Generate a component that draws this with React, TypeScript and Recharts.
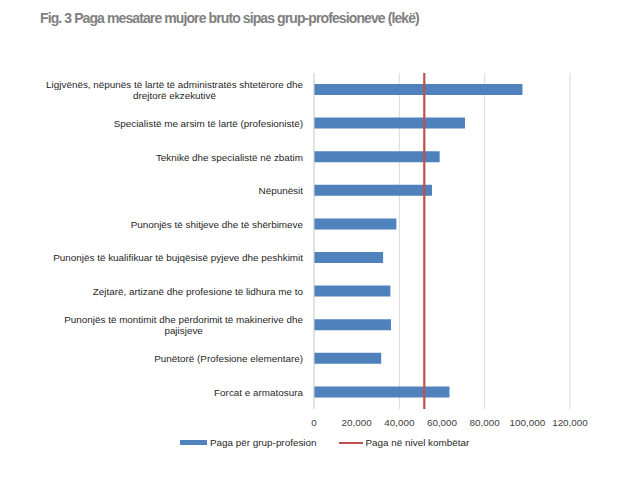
import React from "react";
import {
  BarChart,
  Bar,
  XAxis,
  YAxis,
  CartesianGrid,
  ReferenceLine,
} from "recharts";

const categories = [
  "Ligjvënës, nëpunës të lartë të administratës shtetërore dhe drejtorë ekzekutivë",
  "Specialistë me arsim të lartë (profesionistë)",
  "Teknikë dhe specialistë në zbatim",
  "Nëpunësit",
  "Punonjës të shitjeve dhe të shërbimeve",
  "Punonjës të kualifikuar të bujqësisë pyjeve dhe peshkimit",
  "Zejtarë, artizanë dhe profesione të lidhura me to",
  "Punonjës të montimit dhe përdorimit të makinerive dhe pajisjeve",
  "Punëtorë (Profesione elementare)",
  "Forcat e armatosura",
];

const wages = [97700, 70800, 58900, 55300, 38600, 32400, 35800, 36100, 31500, 63500];

const nationalWage = 51700;

const xTicks = [0, 20000, 40000, 60000, 80000, 100000, 120000];

const data = categories.map((name, i) => ({ name, wage: wages[i] }));

const FONT = '"Liberation Sans", Arial, sans-serif';
const LABEL_SIZE = 9.9;
const BLUE = "#4f81bd";
const RED = "#c0504d";

let ctx: CanvasRenderingContext2D | null = null;
const measure = (s: string) => {
  if (!ctx) {
    ctx = document.createElement("canvas").getContext("2d");
  }
  if (!ctx) return s.length * 4.6;
  ctx.font = `${LABEL_SIZE}px ${FONT}`;
  return ctx.measureText(s).width;
};

// wrap long category names like Excel does, lines centred in the block
const wrap = (text: string, maxW: number) => {
  const words = text.split(" ");
  const lines: string[] = [];
  let cur = "";
  words.forEach((w) => {
    const next = cur ? cur + " " + w : w;
    if (measure(next) > maxW && cur) {
      lines.push(cur);
      cur = w;
    } else {
      cur = next;
    }
  });
  if (cur) lines.push(cur);
  return lines;
};

const CategoryTick = (props: any) => {
  const { x, y, payload } = props;
  const lines = wrap(payload.value, 270);
  const right = x - 3;
  const blockW = Math.max(...lines.map(measure));
  const lh = 10.5;
  const startY = y - ((lines.length - 1) * lh) / 2 + 3.5;
  if (lines.length === 1) {
    return (
      <text x={right} y={startY} textAnchor="end" fontSize={LABEL_SIZE} fill="#1f1f1f" fontFamily={FONT}>
        {lines[0]}
      </text>
    );
  }
  return (
    <g>
      {lines.map((l, i) => (
        <text
          key={i}
          x={right - blockW / 2}
          y={startY + i * lh}
          textAnchor="middle"
          fontSize={LABEL_SIZE}
          fill="#1f1f1f"
          fontFamily={FONT}
        >
          {l}
        </text>
      ))}
    </g>
  );
};

export default function App() {
  return (
    <div style={{ position: "absolute", left: 0, top: 0, width: 640, height: 479, background: "#fff", fontFamily: FONT }}>
      <div
        style={{
          position: "absolute",
          left: 40,
          top: 10,
          fontSize: 14,
          fontWeight: "bold",
          color: "#808080",
          letterSpacing: -0.9,
          whiteSpace: "nowrap",
        }}
      >
        Fig. 3 Paga mesatare mujore bruto sipas grup-profesioneve (lekë)
      </div>
      <BarChart
        width={640}
        height={479}
        data={data}
        layout="vertical"
        margin={{ top: 73, right: 70, bottom: 45, left: 0 }}
        barCategoryGap="32%"
      >
        <CartesianGrid horizontal={false} stroke="#d9d9d9" />
        <XAxis
          type="number"
          domain={[0, 120000]}
          ticks={xTicks}
          tickFormatter={(v: number) => v.toLocaleString("en-US")}
          axisLine={false}
          tickLine={false}
          tick={{ fontSize: 9.9, fill: "#404040", fontFamily: FONT }}
          tickMargin={4}
          height={25}
        />
        <YAxis
          type="category"
          dataKey="name"
          width={314}
          axisLine={{ stroke: "#d9d9d9" }}
          tickLine={false}
          interval={0}
          tick={<CategoryTick />}
        />
        <Bar dataKey="wage" fill={BLUE} barSize={11} isAnimationActive={false} />
        <ReferenceLine x={nationalWage} stroke={RED} strokeWidth={2.2} />
      </BarChart>
      <div
        style={{
          position: "absolute",
          top: 437,
          left: 180,
          display: "flex",
          alignItems: "center",
          fontSize: 9.9,
          color: "#1f1f1f",
          whiteSpace: "nowrap",
        }}
      >
        <span style={{ display: "inline-block", width: 27, height: 5, background: BLUE, marginRight: 3 }} />
        <span>Paga për grup-profesion</span>
        <span style={{ display: "inline-block", width: 24, height: 2, background: RED, marginLeft: 22, marginRight: 3 }} />
        <span>Paga në nivel kombëtar</span>
      </div>
    </div>
  );
}
